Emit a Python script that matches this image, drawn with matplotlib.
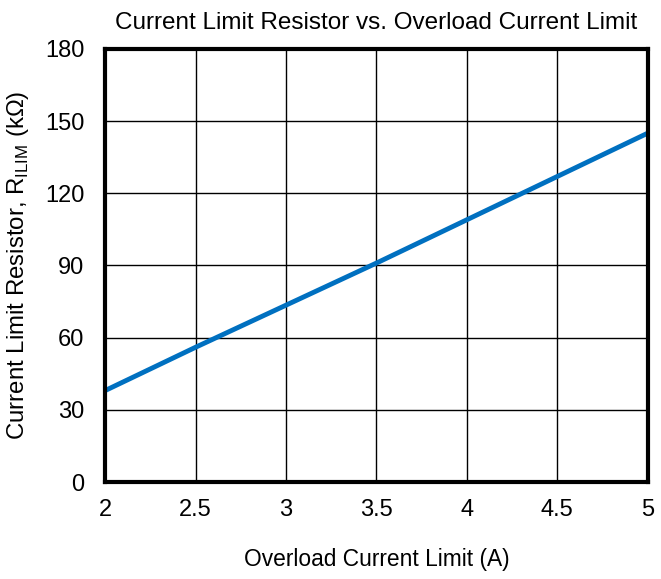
import matplotlib.pyplot as plt

plt.rcParams['font.family'] = ['Liberation Sans', 'DejaVu Sans']
plt.rcParams['mathtext.fontset'] = 'custom'
plt.rcParams['mathtext.rm'] = 'Liberation Sans'

# overload current limit (A) vs R_ILIM (kOhm)
current = [2.0, 2.5, 3.0, 3.5, 4.0, 4.5, 5.0]
r_ilim = [38, 56, 73.5, 91, 109, 127, 145]

fig = plt.figure(figsize=(6.61, 5.79), dpi=100)
ax = fig.add_axes([0.159, 0.1675, 0.821, 0.748])

ax.plot(current, r_ilim, color='#0070c0', lw=3.5, solid_capstyle='butt')

ax.set_xlim(2, 5)
ax.set_ylim(0, 180)
ax.set_xticks([2, 2.5, 3, 3.5, 4, 4.5, 5])
ax.set_xticklabels(['2', '2.5', '3', '3.5', '4', '4.5', '5'])
ax.set_yticks(range(0, 181, 30))
ax.grid(True, color='black', lw=1)
ax.set_axisbelow(True)
for s in ax.spines.values():
    s.set_linewidth(3)
ax.tick_params(length=0, labelsize=17)
ax.tick_params(axis='y', pad=15)
ax.tick_params(axis='x', pad=12)

ax.set_title('Current Limit Resistor vs. Overload Current Limit', fontsize=17.5, pad=14)
ax.set_xlabel('Overload Current Limit (A)', fontsize=16.4, labelpad=20)
ax.set_ylabel(r'Current Limit Resistor, R$_{\mathrm{ILIM}}$ (k$\Omega$)', fontsize=17.3, labelpad=10)

fig.savefig('out.png', dpi=100)
